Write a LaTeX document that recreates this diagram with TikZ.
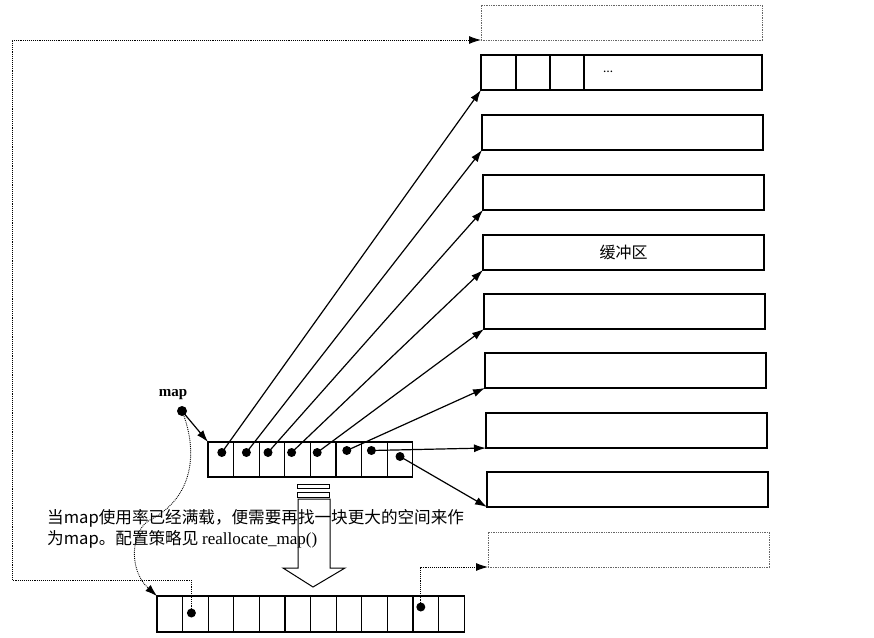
\documentclass[tikz,border=0pt]{standalone}
\usepackage{fontspec}
\setmainfont{Liberation Serif}
\newfontfamily\cjk{Noto Sans CJK SC}
\usepackage{tikz}
\usetikzlibrary{
  arrows.meta,
  positioning,
  calc
}

\begin{document}
\begin{tikzpicture}[
        x=1pt, y=-1pt,
        buf/.style={draw, line width=1.4pt, minimum width=281pt, minimum height=35pt,
            inner sep=0pt, outer sep=0pt, anchor=north west},
        ghost/.style={buf, densely dotted, line width=0.9pt, draw=black!60},
        cell/.style={draw, line width=1.3pt, minimum width=25.6pt, minimum height=35pt,
            inner sep=0pt, outer sep=0pt, anchor=north west},
        dot/.style={circle, fill=black, inner sep=0pt, minimum size=9pt},
        ptr/.style={line width=1.2pt, -{Latex[length=12pt,width=8pt]}},
        dptr/.style={densely dotted, line width=0.9pt, -{Latex[length=12pt,width=8pt]}}
    ]
        \useasboundingbox (0,0) rectangle (874,637);

        % Buffers à direita
        \node[ghost] (b0) at (481,5) {};
        \foreach \i/\x/\y in {1/481/55, 2/482/115, 3/483/175, 4/483/235,
                              5/484/294, 6/485/353, 7/486/413, 8/487/472}
            \node[buf] (b\i) at (\x,\y) {};
        \node[ghost] (b9) at (488,532) {};
        \foreach \dx in {35,69,103}
            \draw[line width=1.3pt] ([xshift=\dx pt]b1.north west) -- ([xshift=\dx pt]b1.south west);
        \node[font=\bfseries] (etc) at (608,72) {\ldots};
        \node[font={\cjk\fontsize{16}{19}\selectfont}] (buflbl) at (b4.center) {缓冲区};

        % Map antigo
        \foreach \i in {1,...,8}
            \node[cell] (m\i) at ({208+25.6*(\i-1)},442) {};
        \foreach \i/\dx/\dy in {1/1/7, 2/0/7, 3/-4/7, 4/-6/7, 5/-6/7, 6/-2/9, 7/-3/9, 8/0/3}
            \node[dot] (d\i) at ([xshift=\dx pt, yshift=\dy pt]m\i.center) {};
        \foreach \i in {1,...,8}
            \draw[ptr] (d\i.center) -- (b\i.south west);

        % Ponteiro map
        \node[font=\bfseries\fontsize{15}{17}\selectfont] (maplbl) at (173,395) {map};
        \node[dot, minimum size=10pt] (mp) at (182,411) {};
        \draw[ptr] (mp.center) -- (m1.north west);

        % Map novo
        \foreach \i in {1,...,12}
            \node[cell, minimum height=36pt] (n\i) at ({157+25.6*(\i-1)},596) {};
        \node[dot] (na) at ([xshift=-4pt, yshift=1pt]n2.center) {};
        \node[dot] (nb) at ([xshift=-5pt, yshift=7pt]n11.center) {};
        \draw[dptr] (mp.center) .. controls (196,445) and (198,495) .. (150,520)
            .. controls (131,530) and (128,570) .. (n1.north west);
        \coordinate (loop) at (12,580);
        \draw[dptr] (na.center) |- (loop) |- (b0.south west);
        \draw[dptr] (nb.center) |- (b9.south west);

        % Seta grande
        \draw[line width=1pt] (297,484) rectangle (329,488);
        \draw[line width=1pt] (297,492) rectangle (329,497);
        \draw[line width=1pt] (298,499) -- (298,568) -- (283,568) -- (313,587)
            -- (345,568) -- (330,568) -- (330,499) -- cycle;

        % Texto
        \node[anchor=north west, align=left, inner sep=0pt,
              font={\cjk\fontsize{16.6}{21}\selectfont}] (note) at (47,509)
            {当map使用率已经满载，便需要再找一块更大的空间来作\\
             为map。配置策略见 {\rmfamily\fontsize{17}{21}\selectfont reallocate\_map()}};
    \end{tikzpicture}
\end{document}
